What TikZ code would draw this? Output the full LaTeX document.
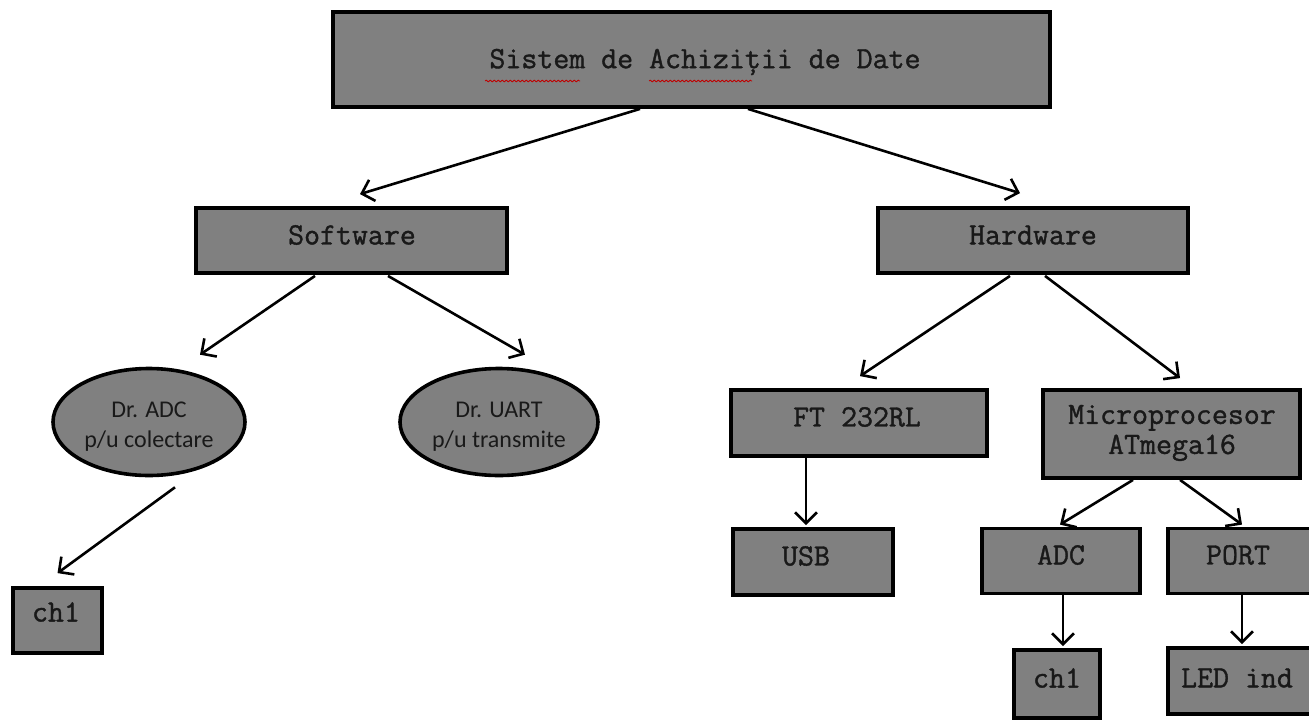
\documentclass[tikz,border=0pt]{standalone}
\usepackage{fontspec}
\setmonofont[FakeBold=1.2]{Latin Modern Mono}
\newfontfamily\calib{Carlito}
\usetikzlibrary{arrows.meta,decorations.pathmorphing,shapes.geometric,calc}
\definecolor{boxgray}{RGB}{128,128,128}
\definecolor{txtgray}{RGB}{25,25,25}
\tikzset{
  gbox/.style={draw=black, fill=boxgray, line width=3.8pt, inner sep=0pt},
  gell/.style={ellipse, draw=black, fill=boxgray, line width=3.6pt, inner sep=0pt},
  mtxt/.style={font=\ttfamily\fontsize{31}{30}\selectfont, text=txtgray, align=center, inner sep=0pt},
  ctxt/.style={font=\calib\fontsize{24}{30}\selectfont, text=txtgray, align=center, inner sep=0pt},
  arr/.style={line width=2.6pt, -{Straight Barb[length=11pt,width=22pt,line width=2.6pt]}},
  squig/.style={red!75!black, line width=0.8pt, decorate, decoration={snake, segment length=4pt, amplitude=0.9pt}}
}
\begin{document}
\begin{tikzpicture}[x=1pt,y=-1pt]
\useasboundingbox[fill=white] (0,0) rectangle (1309,720);

% boxes
\node[gbox, minimum width=717pt, minimum height=95pt] (top) at (691.5,59.5) {};
\node[mtxt] (topt) at (705,62) {Sistem de Achiziții de Date};
\draw[squig] (485,81) -- (580,81);
\draw[squig] (649,81) -- (752,81);

\node[gbox, minimum width=311pt, minimum height=65pt] (sw) at (351.5,240.5) {};
\node[mtxt] (swt) at (352,235) {Software};

\node[gbox, minimum width=310pt, minimum height=65pt] (hw) at (1033,240.5) {};
\node[mtxt] (hwt) at (1033,235) {Hardware};

\node[gell, minimum width=192pt, minimum height=107pt] (e1) at (149,422) {};
\node[ctxt] (e1t) at (149,427) {Dr. ADC\\p/u colectare};

\node[gell, minimum width=198pt, minimum height=107pt] (e2) at (499,422) {};
\node[ctxt] (e2t) at (499,427) {Dr. UART\\p/u transmite};

\node[gbox, minimum width=89pt, minimum height=65pt] (chl) at (57.5,620.5) {};
\node[mtxt] (chlt) at (56,612) {ch1};

\node[gbox, minimum width=256pt, minimum height=66pt] (ft) at (859,423) {};
\node[mtxt] (ftt) at (857,417) {FT 232RL};

\node[gbox, minimum width=160pt, minimum height=66pt] (usb) at (813,562) {};
\node[mtxt] (usbt) at (806,556) {USB};

\node[gbox, minimum width=257pt, minimum height=88pt] (mc) at (1171.5,434) {};
\node[mtxt] (mct) at (1172,433) {Microprocesor\\ATmega16};

\node[gbox, minimum width=158pt, minimum height=65pt] (adc) at (1061,561) {};
\node[mtxt] (adct) at (1061,555) {ADC};

\node[gbox, minimum width=146pt, minimum height=65pt] (port) at (1241,561) {};
\node[mtxt] (portt) at (1238,555) {PORT};

\node[gbox, minimum width=86pt, minimum height=68pt] (chr) at (1057,684) {};
\node[mtxt] (chrt) at (1057,678) {ch1};

\node[gbox, minimum width=146pt, minimum height=66pt] (led) at (1241,681) {};
\node[mtxt] (ledt) at (1237,678) {LED ind};

% connectors
\draw[arr] ([xshift=-51.5pt]top.south) -- ([xshift=8.5pt,yshift=12pt]sw.north);
\draw[arr] ([xshift=56.5pt]top.south) -- ([xshift=-13pt,yshift=13pt]hw.north);
\draw[arr] ([xshift=-36.5pt,yshift=-1pt]sw.south) -- ([xshift=51pt,yshift=12pt]e1.north);
\draw[arr] ([xshift=36.5pt,yshift=-1pt]sw.south) -- ([xshift=26pt,yshift=12pt]e2.north);
\draw[arr] ([xshift=-23pt,yshift=-1pt]hw.south) -- ([xshift=1pt,yshift=12pt]ft.north);
\draw[arr] ([xshift=12pt,yshift=-1pt]hw.south) -- ([xshift=8.5pt,yshift=10pt]mc.north);
\draw[arr] ([xshift=26pt,yshift=-10pt]e1.south) -- ([xshift=0pt,yshift=13pt]chl.north);
\draw[arr] ([xshift=-53pt]ft.south) -- ([xshift=-7pt,yshift=2pt]usb.north);
\draw[arr] ([xshift=-38.5pt]mc.south) -- ([xshift=-1pt,yshift=2pt]adc.north);
\draw[arr] ([xshift=8.5pt]mc.south) -- ([xshift=1pt,yshift=2pt]port.north);
\draw[arr] ([xshift=2pt]adc.south) -- ([xshift=6pt,yshift=2pt]chr.north);
\draw[arr] ([xshift=1pt]port.south) -- ([xshift=1pt,yshift=2pt]led.north);
\end{tikzpicture}
\end{document}
